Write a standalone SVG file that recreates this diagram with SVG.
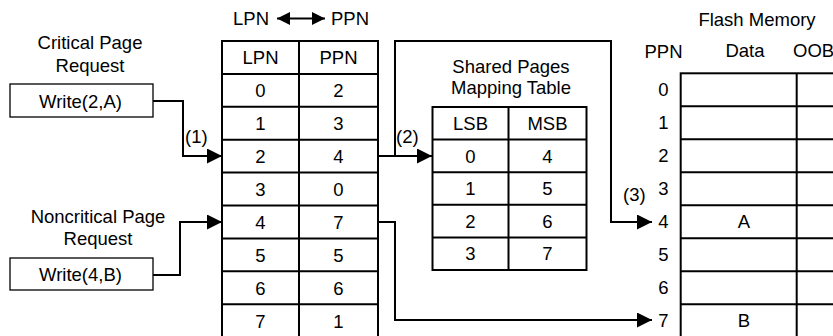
<svg xmlns="http://www.w3.org/2000/svg" width="833" height="336" viewBox="0 0 833 336">
  <defs>
    <style>
      text { font-family: "Liberation Sans", Arial, sans-serif; font-size: 18.5px; fill: #000; }
      .c { text-anchor: middle; }
      .grid { fill: none; stroke: #000; stroke-width: 2; }
      .box { fill: #fff; stroke: #000; stroke-width: 1.3; }
      .wire { fill: none; stroke: #000; stroke-width: 2; }
    </style>
    <marker id="head" markerUnits="userSpaceOnUse" markerWidth="16" markerHeight="16" refX="15" refY="7.5" orient="auto">
      <path d="M0,0 L15,7.5 L0,15 Z" fill="#000"/>
    </marker>
    <marker id="headSmall" markerUnits="userSpaceOnUse" markerWidth="14" markerHeight="14" refX="13" refY="6.5" orient="auto-start-reverse">
      <path d="M0,0 L13,6.5 L0,13 Z" fill="#000"/>
    </marker>
  </defs>
  <rect width="833" height="336" fill="#fff"/>

  <!-- title above the page mapping table -->
  <g id="mapping-title">
    <text x="233" y="25">LPN</text>
    <line x1="277" y1="18.5" x2="325" y2="18.5" stroke="#000" stroke-width="2" marker-start="url(#headSmall)" marker-end="url(#headSmall)"/>
    <text x="331" y="25">PPN</text>
  </g>

  <!-- critical request -->
  <g id="critical-request">
    <text class="c" x="90" y="48.5">Critical Page</text>
    <text class="c" x="90" y="71.5">Request</text>
    <rect class="box" x="10" y="84" width="143" height="33"/>
    <text class="c" x="80.5" y="108">Write(2,A)</text>
  </g>

  <!-- noncritical request -->
  <g id="noncritical-request">
    <text class="c" x="98" y="222.5">Noncritical Page</text>
    <text class="c" x="98" y="245">Request</text>
    <rect class="box" x="10" y="258" width="143" height="32"/>
    <text class="c" x="80.5" y="281">Write(4,B)</text>
  </g>

  <!-- page mapping table LPN -> PPN -->
  <g id="page-table">
    <rect class="grid" x="222" y="41" width="156" height="297"/>
    <line class="grid" x1="299" y1="41" x2="299" y2="338"/>
    <path class="grid" d="M222,73.9H378 M222,106.8H378 M222,139.7H378 M222,172.6H378 M222,205.5H378 M222,238.4H378 M222,271.3H378 M222,304.2H378"/>
    <text class="c" x="260.5" y="64">LPN</text><text class="c" x="338.5" y="64">PPN</text>
    <text class="c" x="260.5" y="97">0</text><text class="c" x="338.5" y="97">2</text>
    <text class="c" x="260.5" y="130">1</text><text class="c" x="338.5" y="130">3</text>
    <text class="c" x="260.5" y="163">2</text><text class="c" x="338.5" y="163">4</text>
    <text class="c" x="260.5" y="196">3</text><text class="c" x="338.5" y="196">0</text>
    <text class="c" x="260.5" y="228.5">4</text><text class="c" x="338.5" y="228.5">7</text>
    <text class="c" x="260.5" y="261.5">5</text><text class="c" x="338.5" y="261.5">5</text>
    <text class="c" x="260.5" y="294.5">6</text><text class="c" x="338.5" y="294.5">6</text>
    <text class="c" x="260.5" y="327.5">7</text><text class="c" x="338.5" y="327.5">1</text>
  </g>

  <!-- shared pages mapping table -->
  <g id="shared-table">
    <text class="c" x="511" y="73">Shared Pages</text>
    <text class="c" x="511" y="94">Mapping Table</text>
    <rect class="grid" x="432.5" y="107" width="154" height="163"/>
    <line class="grid" x1="508.5" y1="107" x2="508.5" y2="270"/>
    <path class="grid" d="M432.5,139.6H586.5 M432.5,172.2H586.5 M432.5,204.8H586.5 M432.5,237.4H586.5"/>
    <text class="c" x="470.5" y="130">LSB</text><text class="c" x="547.5" y="130">MSB</text>
    <text class="c" x="470.5" y="162.5">0</text><text class="c" x="547.5" y="162.5">4</text>
    <text class="c" x="470.5" y="195">1</text><text class="c" x="547.5" y="195">5</text>
    <text class="c" x="470.5" y="227.5">2</text><text class="c" x="547.5" y="227.5">6</text>
    <text class="c" x="470.5" y="260">3</text><text class="c" x="547.5" y="260">7</text>
  </g>

  <!-- flash memory pages -->
  <g id="flash-memory">
    <text class="c" x="757" y="26">Flash Memory</text>
    <text class="c" x="663.5" y="58">PPN</text>
    <text class="c" x="745" y="57">Data</text>
    <text x="793" y="57">OOB</text>
    <rect class="grid" x="680.7" y="73.3" width="200" height="264"/>
    <line class="grid" x1="796.7" y1="73.3" x2="796.7" y2="338"/>
    <path class="grid" d="M680.7,106.3H840 M680.7,139.3H840 M680.7,172.3H840 M680.7,205.3H840 M680.7,238.3H840 M680.7,271.3H840 M680.7,304.3H840"/>
    <text class="c" x="663.5" y="96">0</text>
    <text class="c" x="663.5" y="129">1</text>
    <text class="c" x="663.5" y="162">2</text>
    <text class="c" x="663.5" y="195">3</text>
    <text class="c" x="663.5" y="228">4</text>
    <text class="c" x="663.5" y="261">5</text>
    <text class="c" x="663.5" y="294">6</text>
    <text class="c" x="663.5" y="327">7</text>
    <text class="c" x="744" y="228">A</text>
    <text class="c" x="744" y="327">B</text>
  </g>

  <!-- connectors -->
  <g id="connectors">
    <path class="wire" d="M153,101 H183 V156 H222" marker-end="url(#head)"/>
    <path class="wire" d="M153,275 H180 V222 H222" marker-end="url(#head)"/>
    <path class="wire" d="M378,156 H432" marker-end="url(#head)"/>
    <path class="wire" d="M395,156 V41 H611 V222 H652" marker-end="url(#head)"/>
    <path class="wire" d="M378,222 H395 V320 H652" marker-end="url(#head)"/>
    <text x="185" y="143">(1)</text>
    <text x="396" y="143">(2)</text>
    <text x="623" y="201">(3)</text>
  </g>
</svg>
